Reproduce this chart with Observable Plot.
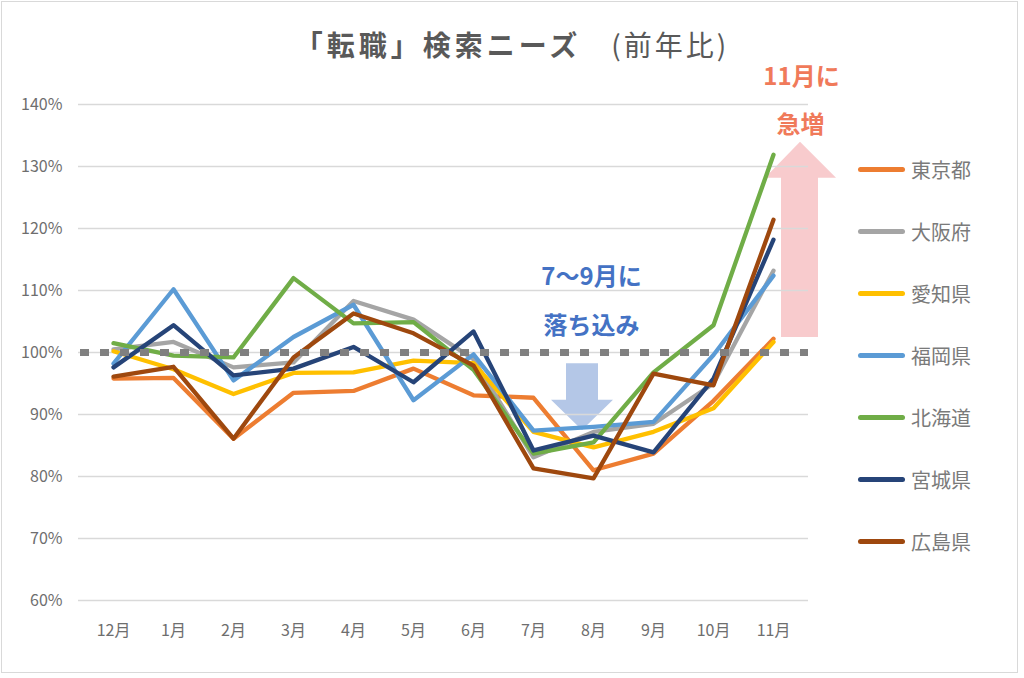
<!DOCTYPE html>
<html><head><meta charset="utf-8">
<script src="https://cdn.jsdelivr.net/npm/d3@7"></script>
<script src="https://cdn.jsdelivr.net/npm/@observablehq/plot@0.6"></script>
<style>
body{margin:0;background:#fff;font-family:"Noto Sans CJK JP","Noto Sans",sans-serif;}
#wrap{position:relative;width:1024px;height:678px;overflow:hidden;background:#fff;}
#frame{position:absolute;left:1px;top:1px;width:1015px;height:670px;border:1.5px solid #d9d9d9;pointer-events:none;}
#chart{position:absolute;left:0;top:0;}
#title{position:absolute;left:0px;top:24px;width:1024px;text-align:center;font-size:28px;color:#595959;line-height:40px;white-space:nowrap;}
#title b{font-weight:700;letter-spacing:4px;}
#title span{letter-spacing:3px;margin-left:30px;}
.lg{position:absolute;left:858px;height:30px;display:flex;align-items:center;font-size:20px;color:#7a7a7a;white-space:nowrap;}
.lg i{display:inline-block;width:47px;height:5px;border-radius:3px;margin-right:6px;}
</style></head>
<body>
<div id="wrap">
  <div id="chart"></div>
  <div id="title"><b>「転職」検索ニーズ</b><span>(前年比)</span></div>
  <div id="legend"></div>
  <div id="frame"></div>
</div>
<script>
const months = ["12月","1月","2月","3月","4月","5月","6月","7月","8月","9月","10月","11月"];
const prefectures = ["東京都","大阪府","愛知県","福岡県","北海道","宮城県","広島県"];
const colors = ["#ED7D31","#A5A5A5","#FFC000","#5B9BD5","#70AD47","#264478","#9E480E"];
const tokyo     = [95.8, 95.9, 86.1, 93.5, 93.8, 97.4, 93.1, 92.7, 81.0, 83.7, 92.2, 102.2];
const osaka     = [100.5, 101.7, 97.6, 98.4, 108.3, 105.3, 98.9, 83.1, 87.2, 88.5, 95.0, 113.2];
const aichi     = [100.2, 97.3, 93.3, 96.7, 96.8, 98.7, 98.3, 87.2, 84.7, 87.2, 91.0, 101.7];
const fukuoka   = [98.2, 110.2, 95.5, 102.5, 107.7, 92.3, 99.7, 87.4, 88.0, 88.8, 99.6, 112.4];
const hokkaido  = [101.5, 99.5, 99.2, 112.0, 104.7, 104.9, 97.2, 83.7, 85.5, 96.8, 104.4, 131.9];
const miyagi    = [97.6, 104.4, 96.3, 97.4, 100.9, 95.2, 103.4, 84.2, 86.6, 83.9, 95.8, 118.2];
const hiroshima = [96.1, 97.7, 86.1, 99.2, 106.3, 103.1, 97.9, 81.3, 79.7, 96.6, 94.7, 121.4];
const yTicks = [60, 70, 80, 90, 100, 110, 120, 130, 140];
const baseline = [100];

const series = [tokyo, osaka, aichi, fukuoka, hokkaido, miyagi, hiroshima];
const data = [];
series.forEach((vals, i) => vals.forEach((v, j) => data.push({pref: prefectures[i], month: months[j], value: v})));

const font = '"Noto Sans CJK JP","Noto Sans",sans-serif';
const red = "#F07A5A", blue = "#4472C4";

const plot = Plot.plot({
  width: 1024, height: 678,
  marginLeft: 78, marginRight: 216, marginTop: 104, marginBottom: 78,
  style: {fontFamily: font, fontSize: "16px", color: "#666", background: "transparent", overflow: "visible"},
  x: {type: "point", domain: months, padding: 0.5, label: null},
  y: {domain: [60, 140], label: null},
  color: {domain: prefectures, range: colors},
  marks: [
    Plot.gridY(yTicks, {stroke: "#d9d9d9", strokeOpacity: 1, strokeWidth: 1.5}),
    Plot.axisY(yTicks, {tickSize: 0, tickPadding: 16, tickFormat: d => d + "%", fontSize: 16, fill: "#6e6e6e", label: null}),
    Plot.axisX(months, {tickSize: 0, tickPadding: 24, fontSize: 16, fill: "#6e6e6e", label: null}),
    Plot.line(data, {x: "month", y: "value", z: "pref", stroke: "pref", strokeWidth: 4.3, strokeLinecap: "round", strokeLinejoin: "round"}),
    Plot.ruleY(baseline, {stroke: "#808080", strokeWidth: 7, strokeDasharray: "9,11", strokeDashoffset: -2}),
    Plot.text(["7～9月に"], {x: () => "8月", y: () => 112.1, dx: -2, fill: blue, fontSize: 24, fontWeight: "bold", fontFamily: font}),
    Plot.text(["落ち込み"], {x: () => "8月", y: () => 104.2, dx: -2, fill: blue, fontSize: 24, fontWeight: "bold", fontFamily: font}),
    Plot.text(["11月に"], {x: () => "11月", y: () => 144.4, dx: 28, fill: red, fontSize: 24, fontWeight: "bold", fontFamily: font}),
    Plot.text(["急増"], {x: () => "11月", y: () => 136.6, dx: 27, fill: red, fontSize: 24, fontWeight: "bold", fontFamily: font})
  ]
});
document.getElementById("chart").appendChild(plot);

// annotation arrows positioned through the plot's scales
const X = plot.scale("x"), Y = plot.scale("y");
const svg = d3.select(plot);
const xu = X.apply("11月"), xd = X.apply("8月");
const upPts = [
  [xu + 8, Y.apply(102.4)], [xu + 8, Y.apply(128.1)], [xu - 8, Y.apply(128.1)],
  [xu + 27, Y.apply(133.9)], [xu + 63, Y.apply(128.1)], [xu + 45, Y.apply(128.1)], [xu + 45, Y.apply(102.4)]
];
const downPts = [
  [xd - 27, Y.apply(98.2)], [xd + 5, Y.apply(98.2)], [xd + 5, Y.apply(92.3)], [xd + 20, Y.apply(92.3)],
  [xd - 11, Y.apply(87.4)], [xd - 42, Y.apply(92.3)], [xd - 27, Y.apply(92.3)]
];
const firstG = plot.querySelector("g");
svg.insert("polygon", () => firstG).attr("points", upPts.map(p => p.join(",")).join(" ")).attr("fill", "#F8CBCD");
svg.insert("polygon", () => firstG).attr("points", downPts.map(p => p.join(",")).join(" ")).attr("fill", "#B4C7E7");

// legend
const lg = document.getElementById("legend");
prefectures.forEach((p, i) => {
  const d = document.createElement("div");
  d.className = "lg";
  d.style.top = (154 + i * 62) + "px";
  d.innerHTML = `<i style="background:${colors[i]}"></i>${p}`;
  lg.appendChild(d);
});
</script>
</body></html>
